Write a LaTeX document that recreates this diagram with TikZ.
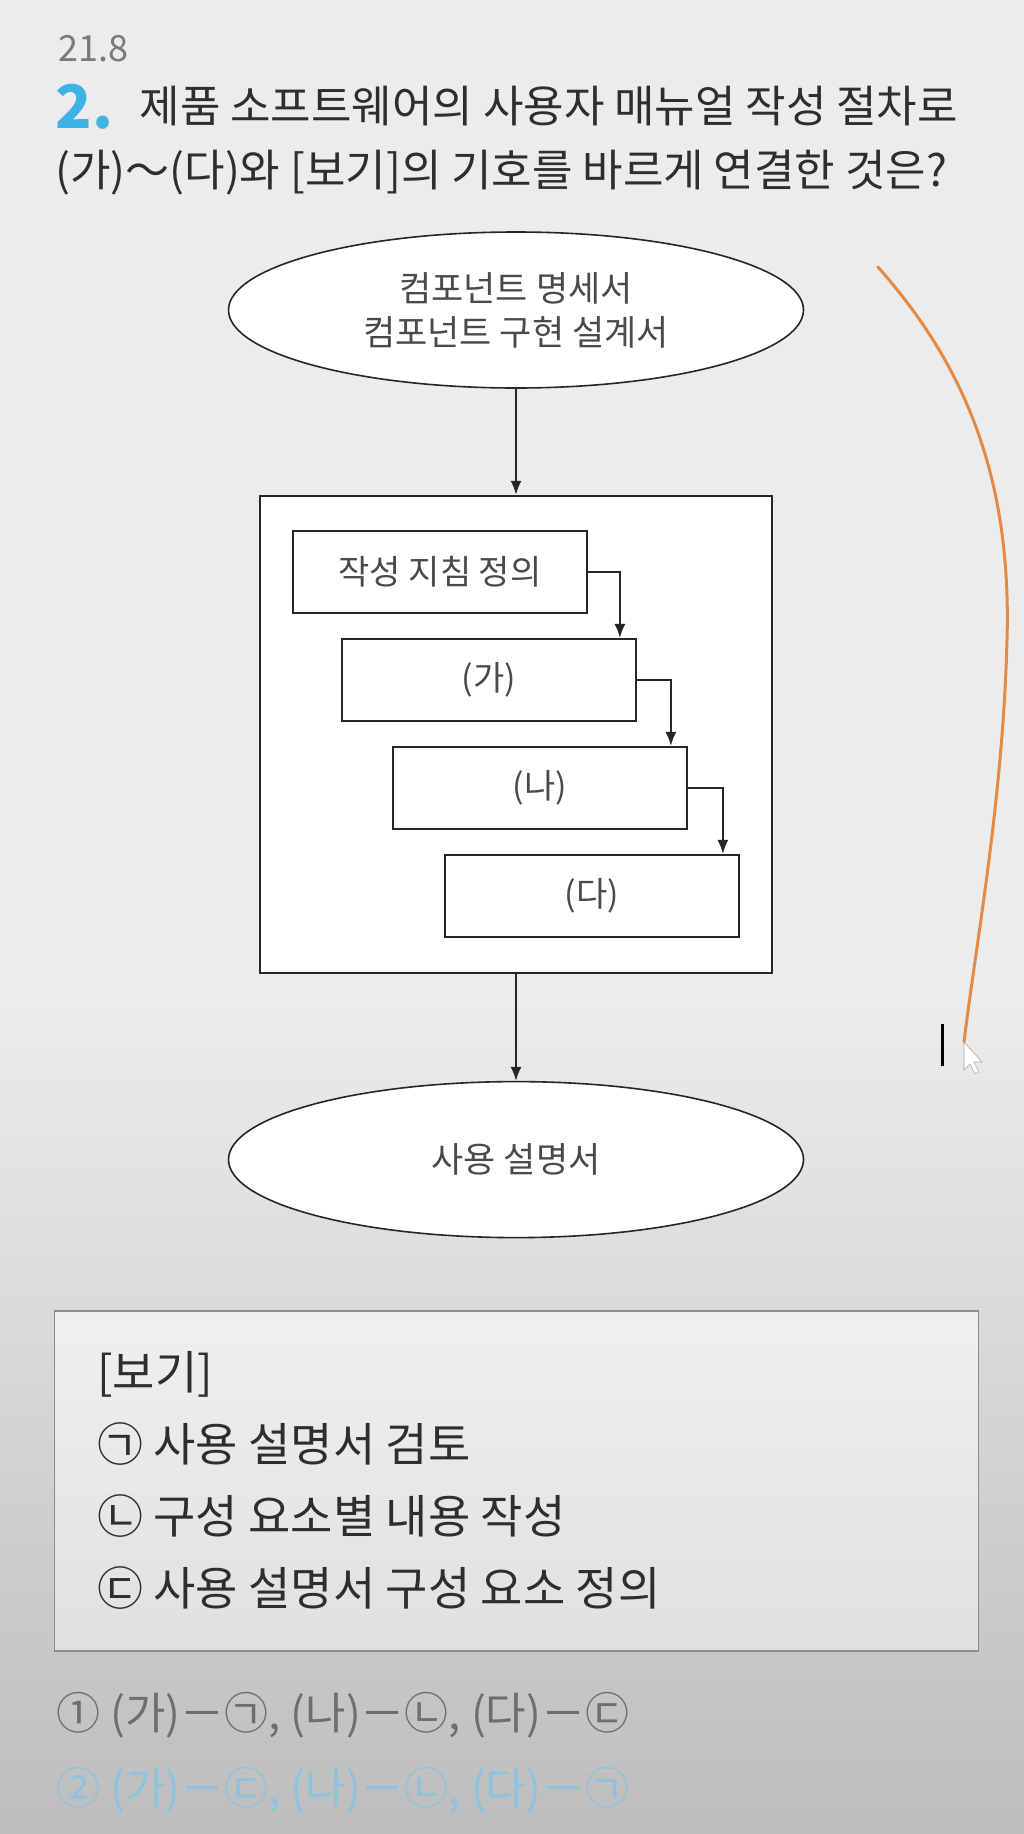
\documentclass[tikz,border=0pt]{standalone}
\usepackage{fontspec}
\setmainfont{Noto Sans CJK KR}
\usepackage{tikz}
\usetikzlibrary{shapes.geometric, arrows.meta, positioning}
\definecolor{pagegray}{HTML}{ECECEC}
\definecolor{pagedark}{HTML}{BDBDBD}
\definecolor{inkgray}{HTML}{2E2E2E}
\definecolor{diagtext}{HTML}{4A4A4A}
\definecolor{linegray}{HTML}{262626}
\definecolor{qblue}{HTML}{3FB3E3}
\definecolor{answerblue}{HTML}{8DC3DF}
\definecolor{optgray}{HTML}{6E6E6E}
\definecolor{yeargray}{HTML}{7A7A7A}
\definecolor{penorange}{HTML}{E58A45}
\definecolor{bogiline}{HTML}{8C8C8C}
\tikzset{
    block/.style={
        rectangle,
        draw=linegray,
        line width=1.8pt,
        fill=white,
        minimum width=294pt,
        minimum height=82pt,
        text=diagtext,
        font=\fontsize{34}{40}\selectfont
    },
    cloud/.style={
        ellipse,
        draw=linegray,
        line width=1.6pt,
        fill=white,
        minimum width=575pt,
        minimum height=156pt,
        align=center,
        text=diagtext,
        font=\fontsize{35}{44}\selectfont
    },
    frame/.style={
        rectangle,
        draw=linegray,
        line width=2pt,
        fill=white,
        minimum width=512pt,
        minimum height=477pt
    },
    connector/.style={
        -{Latex[length=14pt,width=11pt]},
        line width=1.8pt,
        draw=linegray
    },
    title/.style={
        anchor=base west,
        text=inkgray,
        font=\fontsize{44}{50}\selectfont
    },
    bogitext/.style={
        anchor=base west,
        text=inkgray,
        font=\fontsize{46}{52}\selectfont
    },
    choice/.style={
        anchor=base west,
        font=\fontsize{44}{50}\selectfont
    }
}

\begin{document}
\begin{tikzpicture}[x=1pt, y=-1pt]
\useasboundingbox (0,0) rectangle (1024,1834);
\fill[pagegray] (0,0) rectangle (1024,1834);
\shade[top color=pagegray, bottom color=pagedark] (0,1000) rectangle (1024,1834);

% question
\node[anchor=base west, text=yeargray, font=\fontsize{36}{40}\selectfont] (year) at (55,61) {21.8};
\node[anchor=base west, text=qblue, font=\fontsize{60}{64}\selectfont\bfseries] (qnum) at (52,128) {2.};
\node[title] (line1) at (136,122) {제품 소프트웨어의 사용자 매뉴얼 작성 절차로};
\node[title] (line2) at (52,186) {(가)～(다)와 [보기]의 기호를 바르게 연결한 것은?};

% flow chart
\node[cloud] (spec) at (516,310) {컴포넌트 명세서\\컴포넌트 구현 설계서};
\node[frame, below=106pt of spec] (frame) {};
\node[block] (s1) at ([shift={(181,77)}]frame.north west) {작성 지침 정의};
\node[block] (ga) at ([shift={(49,108)}]s1) {(가)};
\node[block] (na) at ([shift={(51,108)}]ga) {(나)};
\node[block] (da) at ([shift={(52,108)}]na) {(다)};
\node[cloud, below=107pt of frame] (manual) {사용 설명서};

\draw[connector] (spec) -- (frame);
\draw[connector] (frame) -- (manual);
\draw[connector] (s1.east) -| ([xshift=-17pt]ga.north east);
\draw[connector] (ga.east) -| ([xshift=-17pt]na.north east);
\draw[connector] (na.east) -| ([xshift=-17pt]da.north east);

% [보기]
\node[draw=bogiline, line width=1.5pt, top color=black!6, bottom color=black!12,
      minimum width=924pt, minimum height=340pt] (bogi) at (516.5,1481) {};
\node[bogitext] (bogihead) at ([shift={(40,79)}]bogi.north west) {[보기]};
\node[bogitext] (item1) at ([yshift=-72pt]bogihead.base west) {㉠ 사용 설명서 검토};
\node[bogitext] (item2) at ([yshift=-72pt]item1.base west) {㉡ 구성 요소별 내용 작성};
\node[bogitext] (item3) at ([yshift=-72pt]item2.base west) {㉢ 사용 설명서 구성 요소 정의};

% choices
\node[choice, text=optgray] (opt1) at (53,1729) {① (가)－㉠, (나)－㉡, (다)－㉢};
\node[choice, text=answerblue] (opt2) at ([yshift=-75pt]opt1.base west) {② (가)－㉢, (나)－㉡, (다)－㉠};

% pen stroke and cursor
\coordinate (penstart) at (878,267);
\coordinate (penmid) at (1007,640);
\coordinate (penend) at (964,1042);
\draw[penorange, line width=3pt, line cap=round]
    (penstart) .. controls (960,360) and (1012,470) .. (penmid)
    .. controls (1003,800) and (975,950) .. (penend);
\draw[black, line width=3pt] (942,1024) -- (942,1066);
\filldraw[fill=white, draw=black!35, line width=0.6pt]
    (penend) -- (964,1070) -- (970,1064) -- (975,1074) -- (979,1072) -- (974,1062) -- (982,1062) -- cycle;
\end{tikzpicture}
\end{document}
